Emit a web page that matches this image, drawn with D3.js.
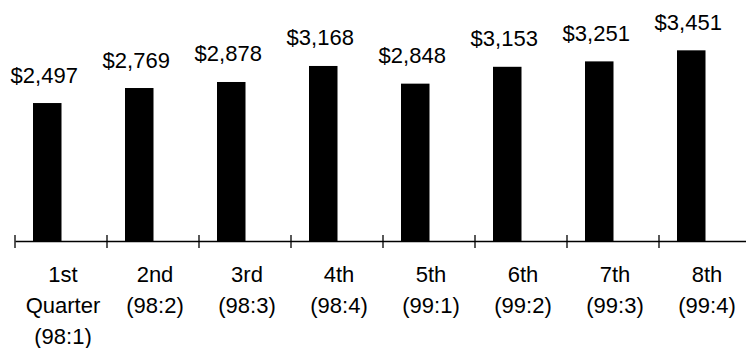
<!DOCTYPE html>
<html>
<head>
<meta charset="utf-8">
<script src="https://cdn.jsdelivr.net/npm/d3@7"></script>
<style>
  body { margin: 0; background: #fff; }
  text { font-family: "Liberation Sans", Arial, sans-serif; fill: #000; }
</style>
</head>
<body>
<svg id="chart"></svg>
<script>
// quarters and the value for each
const quarters = ["1st|Quarter|(98:1)", "2nd|(98:2)", "3rd|(98:3)", "4th|(98:4)",
                  "5th|(99:1)", "6th|(99:2)", "7th|(99:3)", "8th|(99:4)"];
const values = [2497, 2769, 2878, 3168, 2848, 3153, 3251, 3451];

let width = 746;
let height = 348;
let baseY = 241;

let svg = d3.select("#chart")
    .attr("width", width)
    .attr("height", height);

let xScale = d3.scaleBand()
    .domain(quarters)
    .range([15, 751]);

let yScale = d3.scaleLinear()
    .domain([0, 4000])
    .range([baseY, 20]);

let barW = 28.5;
let barOff = 18;

// axis line with ticks between categories
let xAxis = d3.axisBottom(xScale)
    .tickSizeInner(0)
    .tickSizeOuter(0)
    .tickFormat("");
svg.append("g")
    .attr("transform", `translate(0, ${baseY})`)
    .call(xAxis)
    .call(g => g.selectAll(".tick").remove())
    .call(g => g.select(".domain").attr("stroke", "#000").attr("stroke-width", 1.3));

svg.selectAll(".tk")
    .data(quarters)
    .enter().append("line")
    .attr("class", "tk")
    .attr("x1", d => xScale(d))
    .attr("x2", d => xScale(d))
    .attr("y1", baseY - 6)
    .attr("y2", baseY + 7)
    .attr("stroke", "#000")
    .attr("stroke-width", 1.3);

// bars
svg.selectAll(".bar")
    .data(values)
    .enter().append("rect")
    .attr("class", "bar")
    .attr("x", (d, i) => xScale(quarters[i]) + barOff)
    .attr("y", d => yScale(d))
    .attr("width", barW)
    .attr("height", d => baseY - yScale(d))
    .attr("fill", "#000");

// value labels
svg.selectAll(".val")
    .data(values)
    .enter().append("text")
    .attr("class", "val")
    .attr("x", (d, i) => xScale(quarters[i]) + barOff + barW / 2 - 3)
    .attr("y", d => yScale(d) - 20.5)
    .attr("text-anchor", "middle")
    .style("font-size", "22px")
    .text(d => "$" + d3.format(",")(d));

// category labels
let cat = svg.selectAll(".cat")
    .data(quarters)
    .enter().append("text")
    .attr("class", "cat")
    .attr("text-anchor", "middle")
    .style("font-size", "22px");

cat.selectAll("tspan")
    .data(d => d.split("|").map(s => ({ s: s, q: d })))
    .enter().append("tspan")
    .attr("x", d => xScale(d.q) + xScale.bandwidth() / 2 + 2)
    .attr("y", (d, i) => 282 + i * 31)
    .text(d => d.s);
</script>
</body>
</html>
